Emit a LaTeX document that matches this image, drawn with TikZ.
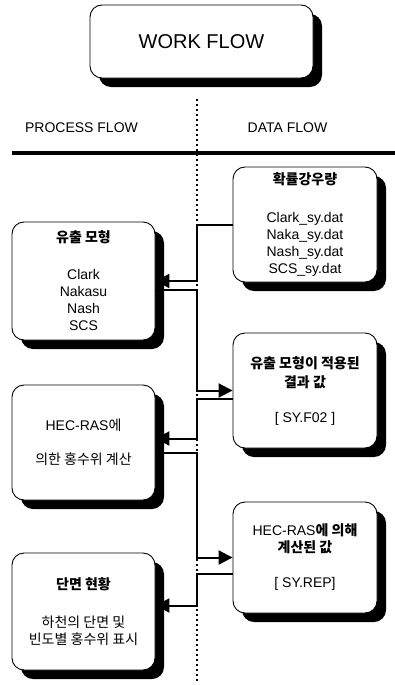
\documentclass[tikz,border=0pt]{standalone}
\usepackage{fontspec}
\setmainfont{Liberation Sans}
\newfontfamily\kr{Noto Sans CJK KR}
\usetikzlibrary {arrows.meta, shadows}

\begin{document}
\begin{tikzpicture}[>=Latex, x=1pt, y=-1pt,
    flowbox/.style={draw, line width=0.9pt, rounded corners=12pt, fill=white,
        drop shadow={shadow xshift=9pt, shadow yshift=-9pt, fill=black, opacity=1},
        align=center, inner sep=0pt, font=\fontsize{14}{17}\selectfont},
    link/.style={line width=2pt, -{Triangle[length=14pt, width=14pt]}},
    spine/.style={line width=2.2pt, dash pattern=on 2pt off 3pt}]
    \useasboundingbox (0, 0) rectangle (395, 685);
    % title and headers
    \node[flowbox, minimum width=223pt, minimum height=73pt,
        font=\fontsize{20}{24}\selectfont] (wf) at (201.5, 41.5) {WORK FLOW};
    \node[font=\fontsize{14}{17}\selectfont] (pf) at (81.5, 128) {PROCESS FLOW};
    \node[font=\fontsize{14}{17}\selectfont] (df) at (287.5, 128) {DATA FLOW};
    \draw[line width=4pt] (12, 153) -- (395, 153);
    \coordinate (sp) at (197, 0);
    \draw[spine] (197, 99) -- (197, 683);
    % data flow
    \node[flowbox, minimum width=144pt, minimum height=115pt] (r1) at (305, 224.5)
        {{\kr\bfseries 확률강우량}\\[21pt]Clark\_sy.dat\\Naka\_sy.dat\\Nash\_sy.dat\\SCS\_sy.dat};
    \node[flowbox, minimum width=144pt, minimum height=115pt] (r2) at (305, 390.5)
        {{\kr\bfseries 유출 모형이 적용된}\\[2pt]{\kr\bfseries 결과 값}\\[18pt][ SY.F02 ]};
    \node[flowbox, minimum width=144pt, minimum height=111pt] (r3) at (305, 557.5)
        {HEC-RAS{\kr\bfseries 에 의해}\\{\kr\bfseries 계산된 값}\\[18pt][ SY.REP]};
    % process flow
    \node[flowbox, minimum width=143pt, minimum height=118pt] (l1) at (83.5, 281)
        {{\kr\bfseries 유출 모형}\\[20pt]Clark\\Nakasu\\Nash\\SCS};
    \node[flowbox, minimum width=143pt, minimum height=115pt] (l2) at (83.5, 442.5)
        {HEC-RAS{\kr 에}\\[17pt]{\kr 의한 홍수위 계산}};
    \node[flowbox, minimum width=143pt, minimum height=117pt] (l3) at (83.5, 611.5)
        {{\kr\bfseries 단면 현황}\\[21pt]{\kr 하천의 단면 및}\\{\kr 빈도별 홍수위 표시}};
    % cross links
    \coordinate (l1out) at ([yshift=-9pt]l1.east);
    \coordinate (r2out) at ([yshift=-8pt]r2.west);
    \coordinate (l2in) at ([yshift=4pt]l2.east);
    \coordinate (l2out) at ([yshift=-10pt]l2.east);
    \coordinate (r3out) at ([yshift=-16pt]r3.west);
    \coordinate (l3in) at ([yshift=6pt]l3.east);
    \draw[link] (r1.west) -- (r1.west -| sp) |- (l1.east);
    \draw[link] (l1out) -- (l1out -| sp) |- (r2.west);
    \draw[link] (r2out) -- (r2out -| sp) |- (l2in);
    \draw[link] (l2out) -- (l2out -| sp) |- (r3.west);
    \draw[link] (r3out) -- (r3out -| sp) |- (l3in);
\end{tikzpicture}
\end{document}
